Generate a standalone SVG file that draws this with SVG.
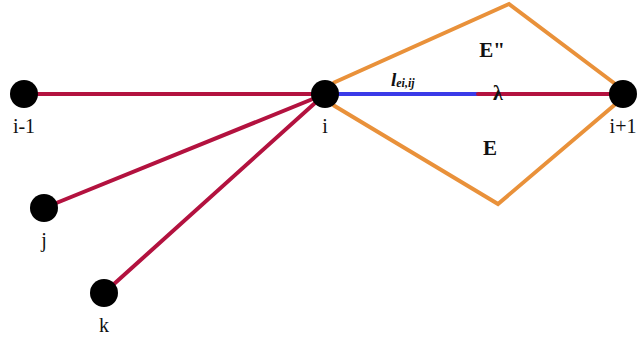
<svg xmlns="http://www.w3.org/2000/svg" width="641" height="342" viewBox="0 0 641 342">
<style>
.edge{stroke:#b3123f;stroke-width:4;fill:none;stroke-linecap:round}
.orange{stroke:#e9913a;stroke-width:4;fill:none;stroke-linejoin:miter}
.node{fill:#000}
.lbl{font-family:"Liberation Serif",serif;font-size:20px;fill:#111;text-anchor:middle}
.big{font-family:"Liberation Serif",serif;font-size:21px;font-weight:bold;fill:#111;text-anchor:middle}
</style>
<rect width="641" height="342" fill="#fff"/>
<g id="connectors">
<polyline class="orange" points="333,83 509,4 618,86"/>
<polyline class="orange" points="333,105 498,204 618,102"/>
<line class="edge" x1="24" y1="94" x2="325" y2="94"/>
<line class="edge" x1="44" y1="208" x2="325" y2="94"/>
<line class="edge" x1="104" y1="293" x2="325" y2="94"/>
<line stroke="#3a3ae8" stroke-width="4" x1="325" y1="94" x2="478" y2="94"/>
<line class="edge" x1="478" y1="94" x2="623" y2="94"/>
<text x="391" y="86" font-family="Liberation Serif,serif" font-size="19" font-style="italic" font-weight="bold" fill="#111">l<tspan font-size="12" dy="1">ei,ij</tspan></text>
<text x="498" y="100" class="lbl" font-size="15" font-weight="bold">λ</text>
<text x="492" y="57" class="big">E"</text>
<text x="490" y="155" class="big">E</text>
</g>
<g id="n_im1"><circle class="node" cx="24" cy="94" r="14"/><text class="lbl" x="24" y="133">i-1</text></g>
<g id="n_i"><circle class="node" cx="325" cy="94" r="14"/><text class="lbl" x="325" y="133">i</text></g>
<g id="n_ip1"><circle class="node" cx="623" cy="94" r="14"/><text class="lbl" x="623" y="133">i+1</text></g>
<g id="n_j"><circle class="node" cx="44" cy="208" r="14"/><text class="lbl" x="44" y="247">j</text></g>
<g id="n_k"><circle class="node" cx="104" cy="293" r="14"/><text class="lbl" x="104" y="332">k</text></g>
</svg>
